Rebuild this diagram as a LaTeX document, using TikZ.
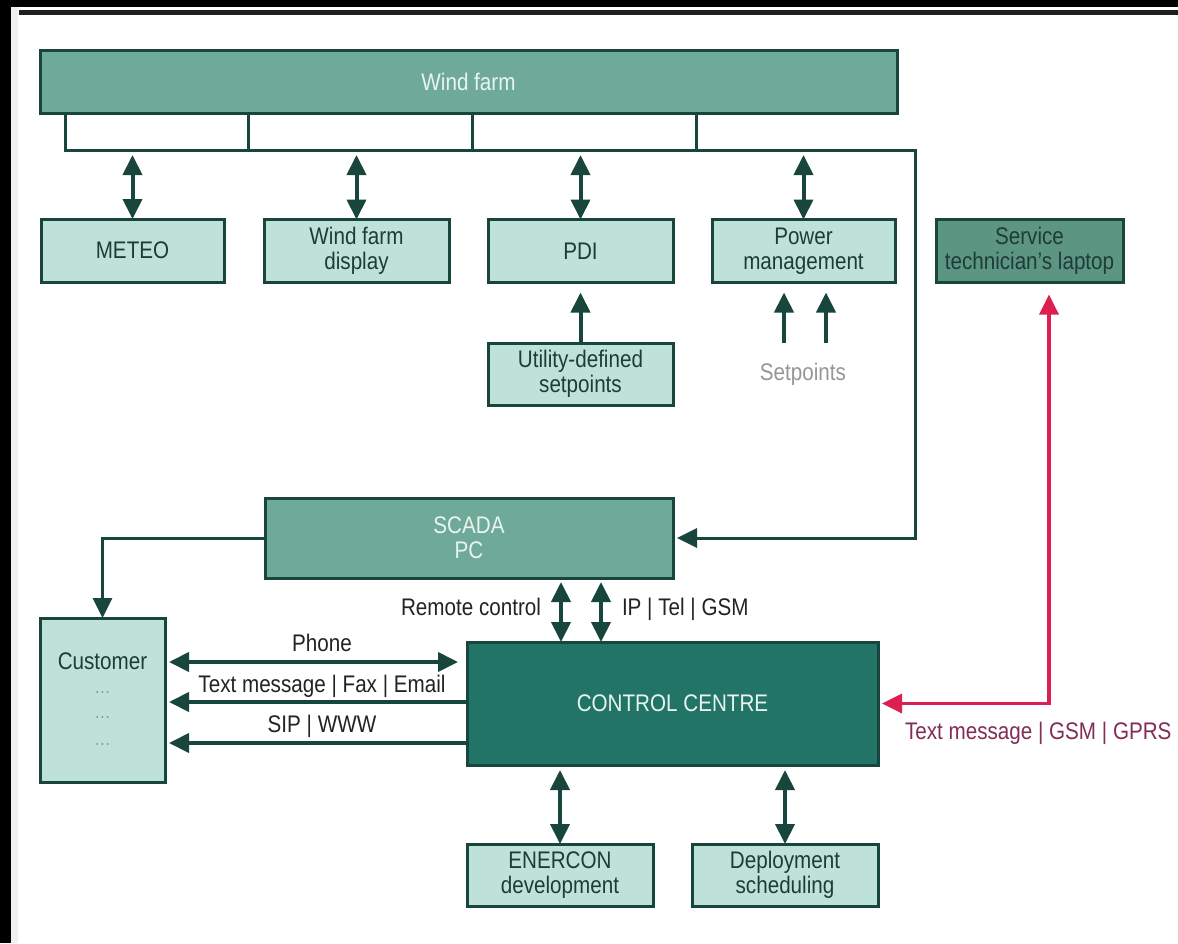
\documentclass[tikz,border=0pt]{standalone}
\usepackage{fontspec}
\setmainfont[FakeStretch=0.86]{Liberation Sans}
\usetikzlibrary{arrows.meta,calc}
\definecolor{linec}{RGB}{24,70,60}
\definecolor{lightfill}{RGB}{190,226,216}
\definecolor{midfill}{RGB}{111,170,152}
\definecolor{lapfill}{RGB}{92,150,130}
\definecolor{ctrlfill}{RGB}{34,117,102}
\definecolor{boxtext}{RGB}{30,60,55}
\definecolor{lighttext}{RGB}{232,244,240}
\definecolor{redline}{RGB}{220,32,82}
\definecolor{redtext}{RGB}{130,45,85}
\definecolor{graytext}{RGB}{150,150,150}
\definecolor{labeltext}{RGB}{35,35,35}
\begin{document}
\begin{tikzpicture}[x=1pt,y=-1pt,
  every node/.style={font=\fontsize{24}{25}\selectfont, inner sep=0pt, outer sep=0pt},
  boxbase/.style={draw=linec, line width=3pt, align=center},
  lightbox/.style={boxbase, fill=lightfill, text=boxtext},
  midbox/.style={boxbase, fill=midfill, text=lighttext},
  lapbox/.style={boxbase, fill=lapfill, text=boxtext},
  ctrlbox/.style={boxbase, fill=ctrlfill, text=lighttext},
  lbl/.style={text=labeltext},
  dotlbl/.style={text=graytext, font=\fontsize{19}{20}\selectfont},
  busline/.style={draw=linec, line width=3pt, line join=miter},
  tip/.tip={Triangle[length=20pt,width=19pt]},
  arr/.style={draw=linec, line width=4pt, -tip},
  darr/.style={draw=linec, line width=4pt, tip-tip},
  redarr/.style={draw=redline, line width=3.5pt, tip-tip}
]
\useasboundingbox (0,0) rectangle (1178,943);
% frame
\fill[white] (0,0) rectangle (1178,943);
\fill[black] (0,0) rectangle (11,943);
\fill[black] (0,0) rectangle (1178,7);
\fill[black!6] (11,7) rectangle (18,943);
\fill[black!88] (19,10) rectangle (1178,15);

% boxes
\node[midbox, minimum width=857pt, minimum height=63pt] (windfarm) at (468.5,81.5) {Wind farm};
\node[lightbox, minimum width=183pt, minimum height=63pt] (meteo) at (132.5,250.5) {METEO};
\node[lightbox, minimum width=185pt, minimum height=63pt] (wfd) at (356.5,251) {Wind farm\\display};
\node[lightbox, minimum width=185pt, minimum height=63pt] (pdi) at (580.5,251) {PDI};
\node[lightbox, minimum width=183pt, minimum height=63pt] (power) at (803.5,251) {Power\\management};
\node[lapbox, minimum width=187pt, minimum height=63pt] (laptop) at (1029.5,251) {Service\\technician's laptop};
\node[lightbox, minimum width=185pt, minimum height=62pt] (utility) at (580.5,374) {Utility-defined\\setpoints};
\node[midbox, minimum width=408pt, minimum height=80pt] (scada) at (469,538) {SCADA\\PC};
\node[lightbox, minimum width=125pt, minimum height=164pt] (customer) at (102.5,700) {};
\node[ctrlbox, minimum width=411pt, minimum height=123pt] (control) at (672.5,703.5) {CONTROL CENTRE};
\node[lightbox, minimum width=186pt, minimum height=62pt] (enercon) at (560,875) {ENERCON\\development};
\node[lightbox, minimum width=186pt, minimum height=62pt] (deploy) at (785,875) {Deployment\\scheduling};

% customer texts
\node[anchor=base, text=boxtext] (custlbl) at (102.5,669) {Customer};
\node[dotlbl] (dots1) at (102.5,692) {\ldots};
\node[dotlbl] (dots2) at (102.5,717) {\ldots};
\node[dotlbl] (dots3) at (102.5,744) {\ldots};

% bus
\coordinate (b1) at (65,150);
\coordinate (b2) at (248,150);
\coordinate (b3) at (472,150);
\coordinate (b4) at (696,150);
\coordinate (b5) at (915,150);
\draw[busline, -tip, shorten >=4pt] (windfarm.south -| b1) -- (b1) -- (b5) -- (b5 |- scada.east) -- (scada.east);
\draw[busline] (windfarm.south -| b2) -- (b2);
\draw[busline] (windfarm.south -| b3) -- (b3);
\draw[busline] (windfarm.south -| b4) -- (b4);

% bus to row boxes
\draw[darr, shorten <=5pt] (meteo.north |- b1) -- (meteo.north);
\draw[darr, shorten <=5pt] (wfd.north |- b1) -- (wfd.north);
\draw[darr, shorten <=5pt] (pdi.north |- b1) -- (pdi.north);
\draw[darr, shorten <=5pt] (power.north |- b1) -- (power.north);

% setpoints
\draw[arr, shorten >=10pt] (utility.north) -- (pdi.south);
\coordinate (sp1) at (784,343);
\coordinate (sp2) at (826,343);
\draw[arr, shorten >=10pt] (sp1) -- (sp1 |- power.south);
\draw[arr, shorten >=10pt] (sp2) -- (sp2 |- power.south);
\node[anchor=base, text=graytext] (setp) at (803,380) {Setpoints};

% SCADA to customer
\draw[arr, line width=3pt] (scada.west) -| (customer.north);

% SCADA to control centre
\coordinate (rc) at (561,0);
\coordinate (ip) at (601,0);
\draw[darr, shorten <=4pt] (scada.south -| rc) -- (control.north -| rc);
\draw[darr, shorten <=4pt] (scada.south -| ip) -- (control.north -| ip);
\node[lbl, anchor=base east] (lrc) at (541,615) {Remote control};
\node[lbl, anchor=base west] (lip) at (622,615) {IP | Tel | GSM};

% customer links
\coordinate (yph) at (0,662);
\coordinate (ytm) at (0,702);
\coordinate (ysip) at (0,743);
\draw[darr, shorten <=4pt, shorten >=9pt] (customer.east |- yph) -- (control.west |- yph);
\draw[arr, shorten >=4pt] (control.west |- ytm) -- (customer.east |- ytm);
\draw[arr, shorten >=4pt] (control.west |- ysip) -- (customer.east |- ysip);
\node[lbl, anchor=base] (lph) at (322,651) {Phone};
\node[lbl, anchor=base] (ltm) at (322,692) {Text message | Fax | Email};
\node[lbl, anchor=base] (lsip) at (322,732) {SIP | WWW};

% control centre to bottom boxes
\draw[darr, shorten <=5pt] (control.south -| enercon.north) -- (enercon.north);
\draw[darr, shorten <=5pt] (control.south -| deploy.north) -- (deploy.north);

% laptop link
\coordinate (rx) at (1049,0);
\draw[redarr, shorten <=12pt, shorten >=4pt] (laptop.south -| rx) -- (rx |- control.east) -- (control.east);
\node[anchor=base west, text=redtext] (lgsm) at (905,739) {Text message | GSM | GPRS};
\end{tikzpicture}
\end{document}
